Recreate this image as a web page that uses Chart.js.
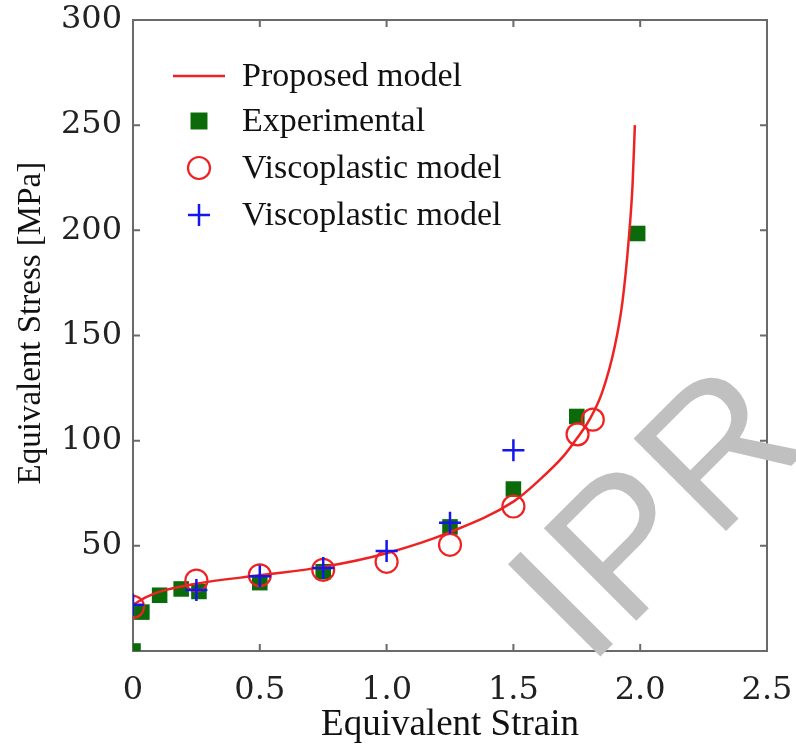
<!DOCTYPE html>
<html>
<head>
<meta charset="utf-8">
<script src="https://cdn.jsdelivr.net/npm/chart.js@4.4.0/dist/chart.umd.min.js"></script>
<style>
  html, body { margin: 0; padding: 0; background: #fff; }
  #wrap { width: 796px; height: 747px; }
</style>
</head>
<body>
<div id="wrap"><canvas id="grafica"></canvas></div>
<script>
// curva del modelo propuesto
const modeloStrain = [0, 0.05, 0.1, 0.25, 0.5, 0.75, 1.0, 1.25, 1.5, 1.6, 1.7, 1.75, 1.8, 1.85, 1.9, 1.93, 1.955, 1.97, 1.979];
const modeloStress = [22, 25.5, 28, 32, 36, 40, 46.5, 56.5, 71, 81, 93, 101, 110, 123, 145, 166, 196, 222, 250];

const expStrain = [0, 0.035, 0.105, 0.19, 0.26, 0.5, 0.75, 1.25, 1.5, 1.75, 1.99];
const expStress = [0, 18.5, 26.5, 29.5, 28.3, 32.5, 37.7, 59, 77, 111.5, 198.5];

const viscoCircStrain = [0, 0.25, 0.5, 0.75, 1.0, 1.25, 1.5, 1.753, 1.813];
const viscoCircStress = [21, 33.5, 36, 38.6, 42.4, 50.5, 68.7, 103, 110];

const viscoCruzStrain = [0, 0.25, 0.5, 0.75, 1.0, 1.25, 1.5];
const viscoCruzStress = [22, 29, 35.5, 39.5, 47.5, 61, 95.5];

const xTicks = [0, 0.5, 1.0, 1.5, 2.0, 2.5];
const yTicks = [0, 50, 100, 150, 200, 250, 300];

const etiquetas = ['Proposed model', 'Experimental', 'Viscoplastic model', 'Viscoplastic model'];

function puntos(xs, ys) {
    return xs.map((x, i) => ({ x: x, y: ys[i] }));
}

const ROJO = '#ee2222';
const VERDE = '#0b6b0b';
const AZUL = '#1515ee';
const EJE = '#6a6a6a';

// marco con ticks hacia adentro en los cuatro lados
const marcoPlugin = {
    id: 'marco',
    beforeDatasetsDraw(chart) {
        const { ctx, chartArea: a, scales } = chart;
        const tl = 7;
        ctx.save();
        ctx.strokeStyle = EJE;
        ctx.lineWidth = 2;
        ctx.strokeRect(a.left, a.top, a.right - a.left, a.bottom - a.top);
        ctx.beginPath();
        xTicks.forEach(v => {
            const px = scales.x.getPixelForValue(v);
            ctx.moveTo(px, a.bottom); ctx.lineTo(px, a.bottom - tl);
            ctx.moveTo(px, a.top); ctx.lineTo(px, a.top + tl);
        });
        yTicks.forEach(v => {
            const py = scales.y.getPixelForValue(v);
            ctx.moveTo(a.left, py); ctx.lineTo(a.left + tl, py);
            ctx.moveTo(a.right, py); ctx.lineTo(a.right - tl, py);
        });
        ctx.stroke();
        ctx.restore();
    }
};

// leyenda dentro del area del grafico
const leyendaPlugin = {
    id: 'leyenda',
    afterDatasetsDraw(chart) {
        const { ctx, chartArea: a } = chart;
        const cx = a.left + 66;
        const textX = a.left + 109;
        const filas = [a.top + 56, a.top + 101, a.top + 148, a.top + 195];
        ctx.save();
        ctx.font = '34px "Liberation Serif"';
        ctx.textBaseline = 'middle';
        chart.data.datasets.forEach((ds, i) => {
            const y = filas[i];
            ctx.fillStyle = '#111';
            ctx.fillText(ds.label, textX, y + 1);
            ctx.strokeStyle = ds.borderColor;
            ctx.beginPath();
            if (i === 0) {
                ctx.lineWidth = 2.5;
                ctx.moveTo(cx - 26, y); ctx.lineTo(cx + 26, y);
                ctx.stroke();
            } else if (ds.pointStyle === 'rect') {
                const s = ds.legendRadius * Math.SQRT1_2;
                ctx.fillStyle = ds.backgroundColor;
                ctx.fillRect(cx - s, y - s, 2 * s, 2 * s);
            } else if (ds.pointStyle === 'circle') {
                ctx.lineWidth = ds.borderWidth;
                ctx.arc(cx, y, ds.legendRadius, 0, Math.PI * 2);
                ctx.stroke();
            } else {
                const r = ds.legendRadius;
                ctx.lineWidth = ds.borderWidth;
                ctx.moveTo(cx - r, y); ctx.lineTo(cx + r, y);
                ctx.moveTo(cx, y - r); ctx.lineTo(cx, y + r);
                ctx.stroke();
            }
        });
        ctx.restore();
    }
};

// marca de agua gris
const marcaAguaPlugin = {
    id: 'marcaAgua',
    afterDraw(chart) {
        const ctx = chart.ctx;
        ctx.save();
        ctx.translate(588, 669);
        ctx.rotate(-Math.PI / 4);
        ctx.font = '190px "Liberation Sans"';
        ctx.fillStyle = '#c0c0c0';
        ctx.textBaseline = 'alphabetic';
        ctx.fillText('IPR', 0, 0);
        ctx.restore();
    }
};

function initChart() {
    const ctx = document.getElementById('grafica').getContext('2d');
    new Chart(ctx, {
        type: 'scatter',
        data: {
            datasets: [
                {
                    label: etiquetas[0],
                    data: puntos(modeloStrain, modeloStress),
                    showLine: true,
                    borderColor: ROJO,
                    borderWidth: 2.5,
                    pointRadius: 0,
                    cubicInterpolationMode: 'monotone',
                    order: 2
                },
                {
                    label: etiquetas[1],
                    data: puntos(expStrain, expStress),
                    pointStyle: 'rect',
                    pointRadius: 11,
                    legendRadius: 12,
                    backgroundColor: VERDE,
                    borderColor: VERDE,
                    borderWidth: 0,
                    order: 3
                },
                {
                    label: etiquetas[2],
                    data: puntos(viscoCircStrain, viscoCircStress),
                    pointStyle: 'circle',
                    pointRadius: 11,
                    legendRadius: 11,
                    backgroundColor: 'rgba(0,0,0,0)',
                    borderColor: ROJO,
                    borderWidth: 2.2,
                    order: 1
                },
                {
                    label: etiquetas[3],
                    data: puntos(viscoCruzStrain, viscoCruzStress),
                    pointStyle: 'cross',
                    pointRadius: 11,
                    legendRadius: 11,
                    borderColor: AZUL,
                    borderWidth: 2.5,
                    order: 0
                }
            ]
        },
        options: {
            responsive: true,
            maintainAspectRatio: false,
            animation: false,
            layout: { padding: { top: 20, right: 29, left: 0, bottom: 0 } },
            plugins: {
                legend: { display: false },
                tooltip: { enabled: false }
            },
            scales: {
                x: {
                    type: 'linear',
                    min: 0,
                    max: 2.5,
                    afterFit: (scale) => {
                        scale.height = 96;
                        scale.paddingLeft = 0;
                        scale.paddingRight = 0;
                    },
                    afterBuildTicks: (scale) => { scale.ticks = xTicks.map(v => ({ value: v })); },
                    grid: { display: false },
                    border: { display: false },
                    ticks: {
                        padding: 12,
                        color: '#222',
                        font: { family: '"DejaVu Serif"', size: 32 },
                        callback: (v) => v === 0 ? '0' : v.toFixed(1)
                    },
                    title: {
                        display: true,
                        text: 'Equivalent Strain',
                        color: '#111',
                        font: { family: '"Liberation Serif"', size: 37 },
                        padding: { top: 0, bottom: 0 }
                    }
                },
                y: {
                    type: 'linear',
                    min: 0,
                    max: 300,
                    afterFit: (scale) => {
                        scale.width = 133;
                        scale.paddingTop = 0;
                        scale.paddingBottom = 0;
                    },
                    afterBuildTicks: (scale) => { scale.ticks = yTicks.map(v => ({ value: v })); },
                    grid: { display: false },
                    border: { display: false },
                    ticks: {
                        padding: 3,
                        color: '#222',
                        font: { family: '"DejaVu Serif"', size: 32 },
                        callback: (v) => v === 0 ? '' : String(v)
                    },
                    title: {
                        display: true,
                        text: '   Equivalent Stress [MPa]',
                        color: '#111',
                        font: { family: '"Liberation Serif"', size: 33 },
                        padding: { top: 12, bottom: 0 }
                    }
                }
            }
        },
        plugins: [marcoPlugin, leyendaPlugin, marcaAguaPlugin]
    });
}

document.addEventListener('DOMContentLoaded', initChart);
</script>
</body>
</html>
